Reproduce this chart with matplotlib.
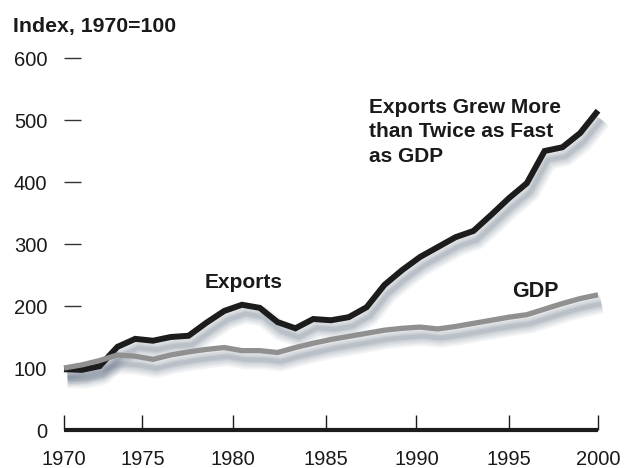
import numpy as np
import matplotlib
matplotlib.use("Agg")
import matplotlib.pyplot as plt
import matplotlib.patheffects as pe

plt.rcParams['font.family'] = ['Liberation Sans', 'DejaVu Sans']

# index values, 1970=100
years = list(range(1970, 2001))
exports = [98, 97, 103, 134, 147, 144, 150, 152, 173, 192,
           202, 197, 174, 164, 179, 177, 182, 198, 234, 258,
           279, 295, 311, 321, 347, 374, 398, 450, 456, 479, 515]
gdp = [100, 105, 112, 121, 119, 114, 121, 126, 130, 133,
       128, 128, 125, 133, 140, 146, 151, 156, 161, 164,
       166, 163, 167, 172, 177, 182, 186, 195, 204, 212, 218]

x_labels = ['1970', '1975', '1980', '1985', '1990', '1995', '2000']
# tick spots as drawn in the original (not quite every 5 years)
x_ticks = [1970, 1974.4, 1979.5, 1984.7, 1989.8, 1995, 2000]
y_ticks = [0, 100, 200, 300, 400, 500, 600]

fig = plt.figure(figsize=(6.24, 4.68), dpi=100)
W, H = 624, 468
ax = fig.add_axes([64 / W, 38 / H, (598 - 64) / W, (430 - 58) / H])
ax.set_xlim(1970, 2000)
ax.set_ylim(0, 600)

# soft drop shadow: a few wide, faint, offset strokes
shadow = [pe.SimpleLineShadow(offset=(2.5, -6.5), shadow_color='#4a5a70',
                              alpha=a, linewidth=lw)
          for lw, a in [(14, 0.07), (11, 0.08), (8, 0.09), (5, 0.1), (3, 0.1)]]
for series in (exports, gdp):
    ax.plot(years, series, lw=5, path_effects=shadow, zorder=1,
            solid_capstyle='butt', clip_on=False)

ax.plot(years, exports, color='#1c1c1c', lw=4.3, zorder=3,
        solid_joinstyle='miter', solid_capstyle='butt', clip_on=False)
ax.plot(years, gdp, color='#909090', lw=3.8, zorder=4,
        solid_joinstyle='miter', solid_capstyle='butt', clip_on=False)

for s in ['top', 'right', 'left']:
    ax.spines[s].set_visible(False)
ax.spines['bottom'].set_linewidth(3)
ax.spines['bottom'].set_color('#1c1c1c')
ax.spines['bottom'].set_capstyle('butt')
ax.spines['bottom'].set_zorder(5)

ax.set_xticks(x_ticks)
ax.set_xticklabels(x_labels)
ax.set_yticks(y_ticks)
ax.tick_params(axis='x', direction='in', length=11, width=1, color='#1c1c1c',
               pad=14.5, labelsize=14.5, labelcolor='#1a1a1a')
ax.tick_params(axis='y', direction='in', length=12, width=1, color='#333333',
               pad=12, labelsize=14.5, labelcolor='#1a1a1a')

fig.text(13 / W, 1 - 32 / H, 'Index, 1970=100', fontsize=15.3, fontweight='bold',
         color='#1a1a1a', va='baseline', ha='left')

ax.text(1977.9, 229, 'Exports', fontsize=15, fontweight='bold',
        color='#1a1a1a', va='baseline', ha='left')
# baseline of the last line sets the anchor
ax.text(1987.15, 432, 'Exports Grew More\nthan Twice as Fast\nas GDP', fontsize=15,
        fontweight='bold', color='#1a1a1a', va='baseline', ha='left',
        linespacing=1.38)
ax.text(1995.2, 214, 'GDP', fontsize=15.5, fontweight='bold',
        color='#1a1a1a', va='baseline', ha='left')

fig.savefig('out.png', dpi=100)
